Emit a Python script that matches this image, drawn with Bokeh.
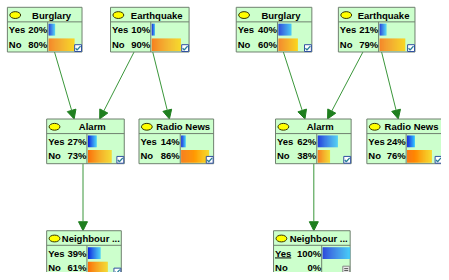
import numpy as np
from bokeh.plotting import figure
from bokeh.models import Range1d, ColumnDataSource, Arrow, NormalHead
from bokeh.core.properties import value
from bokeh.embed import file_html
from bokeh.resources import INLINE

# ---------------- data ----------------
node_names = ["Burglary", "Earthquake", "Alarm", "Radio News", "Neighbour ..."]
state_names = ["Yes", "No"]
left_yes = [20, 10, 27, 14, 39]
left_no = [80, 90, 73, 86, 61]
right_yes = [40, 21, 62, 24, 100]
right_no = [60, 79, 38, 76, 0]
edges = [("Burglary", "Alarm"), ("Earthquake", "Alarm"),
         ("Earthquake", "Radio News"), ("Alarm", "Neighbour ...")]

# ---------------- layout (pixels): left, right, top, divider ----------------
layout_left = [(7, 83, 7, 48), (112, 192, 7, 153), (47, 126, 122, 88),
               (141, 217, 122, 183), (47, 123, 237, 88)]
layout_right = [(240, 317, 7, 282), (344, 422, 7, 385), (280, 357, 122, 322),
                (373, 450, 122, 413), (278, 356, 237, 327)]
edge_pts_left = [(55, 53, 75, 122), (136, 53, 101, 122), (155, 53, 172, 122), (84, 168, 84, 237)]
edge_pts_right = [(288, 53, 310, 122), (369, 53, 333, 122), (388, 53, 405, 122), (319, 168, 319, 237)]

FONT = value("Liberation Sans")
FSIZE = "9.5px"
BORDER = "#6f806f"
FILL = "#ccffcc"
BAR_MAX = 33

p = figure(width=441, height=272, x_range=Range1d(0, 449), y_range=Range1d(280, 0),
           output_backend="svg", toolbar_location=None, min_border=0,
           background_fill_color="white", border_fill_color="white")
p.axis.visible = False
p.grid.visible = False
p.outline_line_color = None


def lerp(c0, c1, t):
    return "#%02x%02x%02x" % tuple(int(round(a + (b - a) * t)) for a, b in zip(c0, c1))


BLUE0, BLUE1 = (5, 30, 225), (50, 195, 255)
ORG0, ORG1 = (255, 105, 0), (255, 210, 10)


def draw_network(yes_vals, no_vals, layout, edge_pts, special_last=False):
    # edges
    src = ColumnDataSource(dict(x0=[e[0] for e in edge_pts], y0=[e[1] for e in edge_pts],
                                x1=[e[2] for e in edge_pts], y1=[e[3] for e in edge_pts]))
    p.add_layout(Arrow(end=NormalHead(size=9, fill_color="#1f7f1f", line_color="#1f7f1f"),
                       x_start="x0", y_start="y0", x_end="x1", y_end="y1", source=src,
                       line_color="#3a963a", line_width=1, level="underlay"))
    L = [n[0] for n in layout]
    R = [n[1] for n in layout]
    T = [n[2] for n in layout]
    D = [n[3] for n in layout]
    B = [t + 46 for t in T]
    p.quad(left=L, right=R, top=T, bottom=B, fill_color=FILL, line_color=BORDER, line_width=1)
    # header separator and divider
    xs, ys = [], []
    for l, r, t, d, b in zip(L, R, T, D, B):
        xs += [[l, r], [d, d]]
        ys += [[t + 15, t + 15], [t + 15, b]]
    p.multi_line(xs, ys, line_color=BORDER, line_width=1)
    # ellipse icon
    p.ellipse(x=[l + 8 for l in L], y=[t + 8 for t in T], width=11, height=7,
              fill_color="#ffff00", line_color="#333300", line_width=1)
    # header text
    p.text(x=[(l + 14 + r) / 2 for l, r in zip(L, R)], y=[t + 8 for t in T], text=node_names,
           text_font=FONT, text_font_style="bold", text_font_size=FSIZE,
           text_align="center", text_baseline="middle", text_color="black")
    # state labels
    lab_x, lab_y, lab_t, pct_x, pct_y, pct_t = [], [], [], [], [], []
    for i in range(len(L)):
        for k, (s, v) in enumerate(zip(state_names, (yes_vals[i], no_vals[i]))):
            yy = T[i] + 23 + 15 * k
            lab_x.append(L[i] + 1.5); lab_y.append(yy); lab_t.append(s)
            pct_x.append(D[i] - 0.5); pct_y.append(yy); pct_t.append("%d%%" % v)
    p.text(x=lab_x, y=lab_y, text=lab_t, text_font=FONT, text_font_style="bold",
           text_font_size=FSIZE, text_align="left", text_baseline="middle", text_color="black")
    p.text(x=pct_x, y=pct_y, text=pct_t, text_font=FONT, text_font_style="bold",
           text_font_size=FSIZE, text_align="right", text_baseline="middle", text_color="black")
    # gradient bars
    ql, qr, qt, qb, qc = [], [], [], [], []
    for i in range(len(L)):
        maxw = min(BAR_MAX, R[i] - D[i] - 1)
        for k, v in enumerate((yes_vals[i], no_vals[i])):
            w = v / 100.0 * maxw
            if w <= 0:
                continue
            n = int(np.ceil(w))
            top = T[i] + 17 + 15 * k
            bot = top + 12 + k
            c0, c1 = (BLUE0, BLUE1) if k == 0 else (ORG0, ORG1)
            for j in range(n):
                x0 = D[i] + 1 + j
                x1 = min(D[i] + 1 + j + 1.05, D[i] + 1 + w)
                ql.append(x0); qr.append(x1); qt.append(top); qb.append(bot)
                qc.append(lerp(c0, c1, j / max(n - 1, 1)))
    p.quad(left=ql, right=qr, top=qt, bottom=qb, fill_color=qc, line_color=None)
    # check boxes
    n_cb = len(L) - 1 if special_last else len(L)
    cx = [R[i] - 4 for i in range(n_cb)]
    cy = [B[i] - 4 for i in range(n_cb)]
    p.rect(x=cx, y=cy, width=7, height=7, fill_color="white", line_color="#3050a0", line_width=1)
    p.multi_line([[x - 2.5, x - 1, x + 2.5] for x in cx], [[y, y + 2, y - 2] for y in cy],
                 line_color="#2a7f9a", line_width=1.3)
    if special_last:
        i = len(L) - 1
        x, y = R[i] - 4, B[i] - 6
        p.rect(x=[x], y=[y], width=7, height=7, fill_color="#e8e8e8", line_color="#888888")
        p.multi_line([[x - 2, x + 2], [x - 2, x + 2]], [[y - 1, y - 1], [y + 1, y + 1]],
                     line_color="#555555", line_width=1)
        # underline the selected state
        p.line([L[i] + 1.5, L[i] + 18], [T[i] + 28, T[i] + 28], line_color="black", line_width=1)


draw_network(left_yes, left_no, layout_left, edge_pts_left)
draw_network(right_yes, right_no, layout_right, edge_pts_right, special_last=True)

open("out.html", "w").write(file_html(p, INLINE))
